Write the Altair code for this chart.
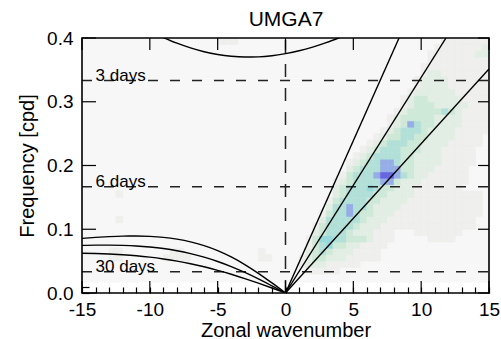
import altair as alt
import pandas as pd

# ---------------- data ----------------
TITLE = "UMGA7"
X_TITLE = "Zonal wavenumber"
Y_TITLE = "Frequency [cpd]"

X_TICKS = list(range(-15, 16))
X_MAJOR = [-15, -10, -5, 0, 5, 10, 15]
Y_TICKS = [round(0.01 * i, 2) for i in range(41)]
Y_MAJOR = [0.0, 0.1, 0.2, 0.3, 0.4]

PERIOD_LABELS = ["3 days", "6 days", "30 days"]
PERIOD_FREQ = [1 / 3, 1 / 6, 1 / 30]
PERIOD_LABEL_K = [-14, -14, -14]

# Kelvin waves (equivalent depths 12, 25, 50 m)
KELVIN_NAMES = ["kelvin12", "kelvin25", "kelvin50"]
KELVIN_K = [[0, 15], [0, 11.83], [0, 8.37]]
KELVIN_F = [[0, 0.3513], [0, 0.4], [0, 0.4]]

# n=1 equatorial Rossby waves
ROSSBY_K = list(range(-15, 1))
ROSSBY_H12 = [0.0624, 0.0620, 0.0612, 0.0600, 0.0584, 0.0562, 0.0534, 0.0500,
              0.0459, 0.0411, 0.0356, 0.0294, 0.0226, 0.0154, 0.0078, 0.0]
ROSSBY_H25 = [0.0747, 0.0751, 0.0751, 0.0747, 0.0738, 0.0721, 0.0697, 0.0663,
              0.0618, 0.0562, 0.0494, 0.0414, 0.0322, 0.0220, 0.0112, 0.0]
ROSSBY_H50 = [0.0857, 0.0872, 0.0884, 0.0892, 0.0894, 0.0888, 0.0873, 0.0845,
              0.0803, 0.0743, 0.0665, 0.0566, 0.0446, 0.0309, 0.0158, 0.0]

# n=1 inertia-gravity wave (h = 12 m)
WIG_K = list(range(-9, 5))
WIG_F = [0.4008, 0.3919, 0.3845, 0.3785, 0.3741, 0.3713, 0.3701, 0.3704,
         0.3721, 0.3755, 0.3800, 0.3858, 0.3928, 0.4008]

# spectrum: plotted region and shaded levels (0 = none)
BG_K = [-15, 15]
BG_F = [1 / 60, 0.4]
GRID_K = [-15 + 0.5 * j for j in range(61)]
GRID_F = [round(0.02 + 0.01 * i, 2) for i in range(39)]
Z30 = "0" * 30
SPECTRUM_ROWS = [  # bottom (0.02) to top (0.40); 60 columns from k=-15 to 15
    Z30 + "000000000000000000000000000000",
    Z30 + "000111110000000000000000000000",
    Z30 + "001222111110000000000000000000",
    "000011000000111100000000001100" + "001233222111110000000000000000",
    "000011000000011000000000001000" + "000234322211110000000000000000",
    Z30 + "000134533221111000000000000000",
    Z30 + "000135544333211100000111100000",
    Z30 + "000023444322211100011111110000",
    Z30 + "000013444432221111111111111100",
    "000001000000000000000000000000" + "000002444443222111111111111100",
    Z30 + "000001344643322211111111111110",
    Z30 + "000000244644322221111111111110",
    Z30 + "000000134444332222111111111110",
    "000001000000000000000000000000" + "000000023444433222211111111110",
    Z30 + "000000023444543322211111110000",
    Z30 + "000000012344446632221111111000",
    Z30 + "000000001344467764322111111000",
    Z30 + "000000000234446663322211111000",
    Z30 + "000000000123446643322221111100",
    Z30 + "000000000012344443322221111100",
    Z30 + "000000000001234443332221111100",
    Z30 + "000000000000123444332222111110",
    Z30 + "000000000000012334433222211110",
    Z30 + "000000000000001234443222211111",
    Z30 + "000000000000000123643322221111",
    Z30 + "000000000000000123333322221111",
    Z30 + "000000000000000012333334321111",
    Z30 + "000000000000000001233322222111",
    Z30 + "000000000000000001233222221111",
    Z30 + "000000000000000000122222211111",
    Z30 + "000000000000000000012222111111",
    Z30 + "000000000000000000012222111111",
    Z30 + "000000000000000000001221111111",
    Z30 + "000000000000000000001111111111",
    Z30 + "000000000000000000000111111111",
    Z30 + "000000000000000000000111111122",
    Z30 + "000000000000000000000011111112",
    "000000000000000000001110000000" + "000000000000000000000001111111",
]
LEVELS = [1, 2, 3, 4, 5, 6, 7]
LEVEL_COLORS = ["#efefed", "#e2eee4", "#cfe9d8", "#b2e0d8", "#98d9dc", "#96ade6", "#6666e0"]

# ---------------- build tables ----------------
FONT = "Liberation Sans, Arial, Helvetica, sans-serif"
W, H = 407, 255
XPX = 30.0 / W
YPX = 0.4 / H

cells = []
for i, row in enumerate(SPECTRUM_ROWS):
    row = row.ljust(60, "0")[:60]
    for j, ch in enumerate(row):
        lvl = int(ch)
        if lvl > 0:
            cells.append({"k": GRID_K[j], "k2": GRID_K[j + 1],
                          "f": GRID_F[i], "f2": GRID_F[i + 1], "level": lvl})
cells = pd.DataFrame(cells)

bg = pd.DataFrame({"k": [BG_K[0]], "k2": [BG_K[1]], "f": [BG_F[0]], "f2": [BG_F[1]]})
frame = pd.DataFrame({"k": [-15], "k2": [15], "f": [0.0], "f2": [0.4]})

straight = []
for name, ks, fs in zip(KELVIN_NAMES, KELVIN_K, KELVIN_F):
    for kv, fv in zip(ks, fs):
        straight.append({"curve": name, "k": kv, "f": fv})
straight = pd.DataFrame(straight)

smooth = []
for name, vals in [("er12", ROSSBY_H12), ("er25", ROSSBY_H25), ("er50", ROSSBY_H50)]:
    for kv, fv in zip(ROSSBY_K, vals):
        smooth.append({"curve": name, "k": kv, "f": fv})
for kv, fv in zip(WIG_K, WIG_F):
    smooth.append({"curve": "wig12", "k": kv, "f": fv})
smooth = pd.DataFrame(smooth)

hlines = pd.DataFrame({"f": PERIOD_FREQ, "k": [-15] * 3, "k2": [15] * 3,
                       "label": PERIOD_LABELS, "lk": PERIOD_LABEL_K})
vline = pd.DataFrame({"k": [0], "f": [0.0], "f2": [0.4]})

# major tick marks on all four edges (inward)
mk, mk2, mf, mf2 = [], [], [], []
for kv in X_MAJOR:
    mk += [kv - 0.6 * XPX, kv - 0.6 * XPX]
    mk2 += [kv + 0.6 * XPX, kv + 0.6 * XPX]
    mf += [0.0, 0.4 - 12 * YPX]
    mf2 += [12 * YPX, 0.4]
for fv in Y_MAJOR:
    mk += [-15.0, 15.0 - 11 * XPX]
    mk2 += [-15.0 + 14 * XPX, 15.0]
    mf += [fv - 0.6 * YPX, fv - 0.6 * YPX]
    mf2 += [fv + 0.6 * YPX, fv + 0.6 * YPX]
major_ticks = pd.DataFrame({"k": mk, "k2": mk2, "f": mf, "f2": mf2})

title_df = pd.DataFrame({"t": [TITLE]})

# ---------------- scales / axes (axis ticks point inward via negative offset) ----------------
xs = alt.Scale(domain=[-15, 15], nice=False, zero=False)
ys = alt.Scale(domain=[0, 0.4], nice=False, zero=False)
xaxis = alt.Axis(values=X_TICKS, ticks=True, tickSize=6, tickColor="black", tickWidth=1.2,
                 offset=-6, domain=False, grid=False, labelOverlap=False,
                 labelExpr="datum.value % 5 === 0 ? '' + datum.value : ''",
                 labelFont=FONT, labelFontSize=19,
                 labelColor="black", labelPadding=7, labelFlush=False,
                 title=X_TITLE, titleFont=FONT, titleFontSize=20,
                 titleFontWeight="normal", titleColor="black", titlePadding=1)
yaxis = alt.Axis(values=Y_TICKS, ticks=True, tickSize=7, tickColor="black", tickWidth=1.2,
                 offset=-7, domain=False, grid=False, labelOverlap=False,
                 labelExpr="abs(datum.value * 10 - round(datum.value * 10)) < 0.001 ? format(datum.value, '.1f') : ''",
                 labelFont=FONT, labelFontSize=19,
                 labelColor="black", labelPadding=9, labelFlush=False,
                 title=Y_TITLE, titleFont=FONT, titleFontSize=20,
                 titleFontWeight="normal", titleColor="black", titlePadding=9)

X = alt.X("k:Q", scale=xs, axis=xaxis)
Y = alt.Y("f:Q", scale=ys, axis=yaxis)

bg_layer = alt.Chart(bg).mark_rect(fill="#f7f7f7").encode(x=X, x2="k2:Q", y=Y, y2="f2:Q")

cell_layer = alt.Chart(cells).mark_rect(strokeWidth=0.6).encode(
    x=X, x2="k2:Q", y=Y, y2="f2:Q",
    fill=alt.Fill("level:O", scale=alt.Scale(domain=LEVELS, range=LEVEL_COLORS), legend=None),
    stroke=alt.Stroke("level:O", scale=alt.Scale(domain=LEVELS, range=LEVEL_COLORS), legend=None),
)

hline_layer = alt.Chart(hlines).mark_rule(color="#222222", strokeWidth=1.5,
                                          strokeDash=[10, 12]).encode(x=X, x2="k2:Q", y=Y)
vline_layer = alt.Chart(vline).mark_rule(color="#222222", strokeWidth=1.5,
                                         strokeDash=[13, 11]).encode(x=X, y=Y, y2="f2:Q")

kelvin_layer = alt.Chart(straight).mark_line(color="black", strokeWidth=1.4, clip=True).encode(
    x=X, y=Y, detail="curve:N")
curve_layer = alt.Chart(smooth).mark_line(color="black", strokeWidth=1.4, clip=True,
                                          interpolate="monotone").encode(
    x=X, y=Y, detail="curve:N")

label_layer = alt.Chart(hlines).mark_text(align="left", baseline="alphabetic", font=FONT,
                                          fontSize=17, color="black").encode(
    x=alt.X("lk:Q", scale=xs, axis=xaxis), y=Y, text="label:N")

major_layer = alt.Chart(major_ticks).mark_rect(color="black").encode(
    x=X, x2="k2:Q", y=Y, y2="f2:Q")

frame_layer = alt.Chart(frame).mark_rect(fillOpacity=0, stroke="black", strokeWidth=1.6).encode(
    x=X, x2="k2:Q", y=Y, y2="f2:Q")

title_layer = alt.Chart(title_df).mark_text(align="center", baseline="alphabetic", font=FONT,
                                            fontSize=21, color="black").encode(
    x=alt.value(W / 2 + 0.5), y=alt.value(-12), text="t:N")

chart = alt.layer(
    bg_layer, cell_layer, hline_layer, vline_layer, kelvin_layer, curve_layer,
    label_layer, major_layer, frame_layer, title_layer
).properties(
    width=W, height=H,
    padding={"left": 82, "top": 38, "right": 12, "bottom": 46},
    autosize=alt.AutoSizeParams(type="none"),
    background="white",
).configure_view(strokeWidth=0)

chart.save("out.html", embed_options={"renderer": "svg", "actions": False})
